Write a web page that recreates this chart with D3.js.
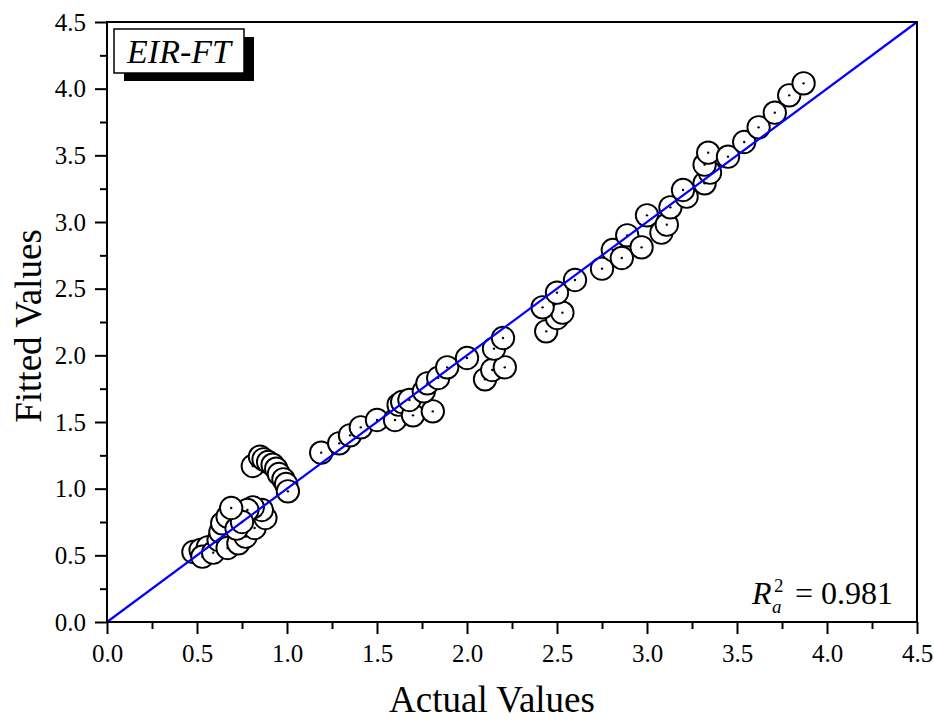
<!DOCTYPE html>
<html>
<head>
<meta charset="utf-8">
<script src="https://cdnjs.cloudflare.com/ajax/libs/d3/7.8.5/d3.min.js"></script>
<style>
  html, body { margin: 0; padding: 0; background: #fff; }
  svg { display: block; font-family: "Liberation Serif", "Times New Roman", serif; }
</style>
</head>
<body>
<div id="chart"></div>
<script>
// values
var actualValues = [
  0.48, 0.52, 0.56, 0.53, 0.59, 0.62, 0.63, 0.64, 0.67, 0.67,
  0.73, 0.77, 0.82, 0.88, 0.86, 0.81, 0.78, 0.72, 0.75, 0.69,
  0.81, 0.85, 0.87, 0.895, 0.92, 0.94, 0.955, 0.98, 0.995, 1.005,
  1.19, 1.29, 1.35, 1.41, 1.50, 1.60, 1.62, 1.64, 1.70, 1.68,
  1.81, 1.76, 1.78, 1.84, 1.89, 2.00, 2.10, 2.14, 2.21, 2.15, 2.20,
  2.44, 2.50, 2.53, 2.42, 2.50, 2.60, 2.75, 2.81, 2.86, 2.89,
  2.97, 3.00, 3.08, 3.11, 3.13, 3.22, 3.20, 3.32, 3.35, 3.32,
  3.34, 3.45, 3.54, 3.62, 3.71, 3.79, 3.87
];
var fittedValues = [
  0.525, 0.54, 0.56, 0.49, 0.52, 0.615, 0.675, 0.74, 0.79, 0.555,
  0.59, 0.64, 0.705, 0.78, 0.84, 0.86, 0.84, 0.70, 0.75, 0.855,
  1.17, 1.24, 1.22, 1.20, 1.18, 1.15, 1.11, 1.07, 1.035, 0.98,
  1.27, 1.34, 1.40, 1.46, 1.515, 1.515, 1.63, 1.65, 1.55, 1.665,
  1.58, 1.73, 1.79, 1.83, 1.91, 1.98, 1.82, 1.89, 1.91, 2.05, 2.13,
  2.18, 2.28, 2.32, 2.36, 2.47, 2.565, 2.65, 2.79, 2.73, 2.90,
  2.81, 3.05, 2.92, 2.98, 3.11, 3.19, 3.24, 3.29, 3.37, 3.43,
  3.52, 3.49, 3.60, 3.71, 3.82, 3.95, 4.04
];
var tickValues = [0, 0.5, 1, 1.5, 2, 2.5, 3, 3.5, 4, 4.5];
var minorTickValues = [0.25, 0.75, 1.25, 1.75, 2.25, 2.75, 3.25, 3.75, 4.25];
var fitLine = [0, 4.5];
var legendLabel = 'EIR-FT';
var r2Label = '0.981';

var width = 934, height = 720
  , margin = { top: 22, right: 17, bottom: 98, left: 107 }
  , serif = '"Liberation Serif", "Times New Roman", serif'
  , x, y, svg, plot, points;

x = d3.scaleLinear().domain([0, 4.5]).range([margin.left, width - margin.right]);
y = d3.scaleLinear().domain([0, 4.5]).range([height - margin.bottom, margin.top]);

svg = d3.select('#chart').append('svg')
  .attr('width', width)
  .attr('height', height);

plot = svg.append('g');

// points, drawn one by one so later circles cover earlier ones
points = plot.selectAll('g.pt')
  .data(d3.zip(actualValues, fittedValues))
  .enter()
    .append('g')
    .attr('class', 'pt')
    .attr('transform', function (d) { return 'translate(' + x(d[0]) + ',' + y(d[1]) + ')'; });

points.append('circle')
  .attr('r', 11.2)
  .attr('fill', '#fff')
  .attr('stroke', '#000')
  .attr('stroke-width', 1.9);

points.append('circle')
  .attr('r', 1.2)
  .attr('fill', '#000');

// fit line
plot.append('line')
  .attr('x1', x(fitLine[0])).attr('y1', y(fitLine[0]))
  .attr('x2', x(fitLine[1])).attr('y2', y(fitLine[1]))
  .attr('stroke', '#0000ff')
  .attr('stroke-width', 2.2);

// frame
svg.append('rect')
  .attr('x', x(0)).attr('y', y(4.5))
  .attr('width', x(4.5) - x(0))
  .attr('height', y(0) - y(4.5))
  .attr('fill', 'none')
  .attr('stroke', '#000')
  .attr('stroke-width', 2);

// axes
var xAxis = svg.append('g')
  .attr('transform', 'translate(0,' + y(0) + ')')
  .call(d3.axisBottom(x).tickValues(tickValues).tickFormat(d3.format('.1f')).tickSize(12).tickPadding(10));
var xMinor = svg.append('g')
  .attr('transform', 'translate(0,' + y(0) + ')')
  .call(d3.axisBottom(x).tickValues(minorTickValues).tickFormat('').tickSize(7));
var yAxis = svg.append('g')
  .attr('transform', 'translate(' + x(0) + ',0)')
  .call(d3.axisLeft(y).tickValues(tickValues).tickFormat(d3.format('.1f')).tickSize(12).tickPadding(9));
var yMinor = svg.append('g')
  .attr('transform', 'translate(' + x(0) + ',0)')
  .call(d3.axisLeft(y).tickValues(minorTickValues).tickFormat('').tickSize(7));

[xAxis, xMinor, yAxis, yMinor].forEach(function (g) {
  g.select('.domain').remove();
  g.selectAll('.tick line').attr('stroke', '#000').attr('stroke-width', 2);
  g.selectAll('.tick text')
    .attr('fill', '#000')
    .style('font-family', serif)
    .style('font-size', '25px');
});

// axis titles
svg.append('text')
  .attr('x', 492).attr('y', 712)
  .attr('text-anchor', 'middle')
  .style('font-size', '37px')
  .text('Actual Values');

svg.append('text')
  .attr('transform', 'translate(41,326) rotate(-90)')
  .attr('text-anchor', 'middle')
  .style('font-size', '37px')
  .text('Fitted Values');

// legend box with shadow
svg.append('rect')
  .attr('x', 124).attr('y', 37).attr('width', 130).attr('height', 44)
  .attr('fill', '#000');
svg.append('rect')
  .attr('x', 114).attr('y', 29).attr('width', 130).attr('height', 44)
  .attr('fill', '#fff').attr('stroke', '#000').attr('stroke-width', 1.5);
svg.append('text')
  .attr('x', 179).attr('y', 63)
  .attr('text-anchor', 'middle')
  .style('font-size', '34px')
  .style('font-style', 'italic')
  .text(legendLabel);

// adjusted R squared
var r2 = svg.append('g').style('font-size', '32px');
r2.append('text').attr('x', 752).attr('y', 604).style('font-style', 'italic').text('R');
r2.append('text').attr('x', 774).attr('y', 592).style('font-size', '19px').text('2');
r2.append('text').attr('x', 772).attr('y', 613).style('font-size', '19px').style('font-style', 'italic').text('a');
r2.append('text').attr('x', 795).attr('y', 604).text('= ' + r2Label);
</script>
</body>
</html>
